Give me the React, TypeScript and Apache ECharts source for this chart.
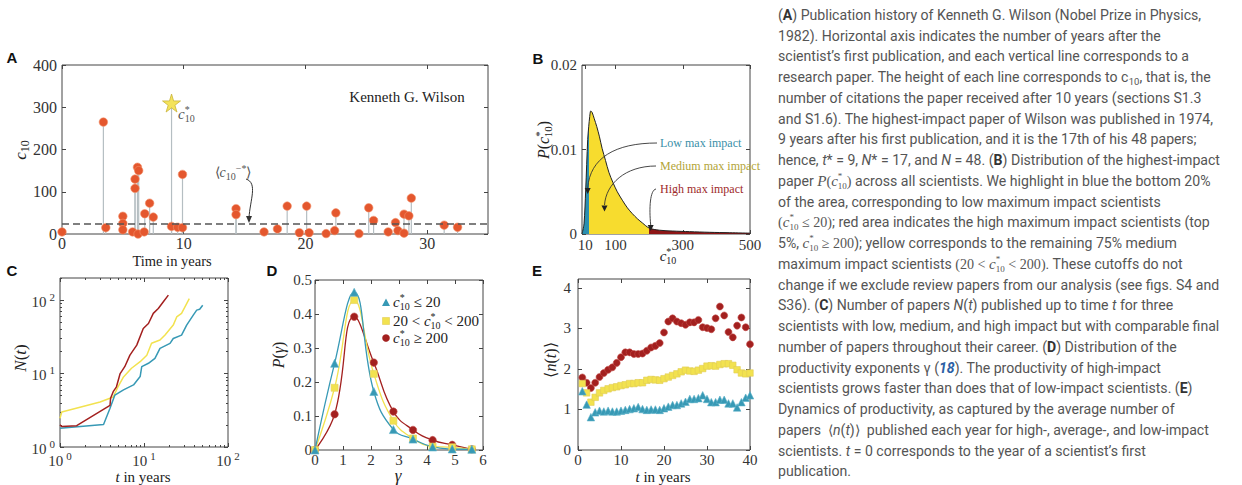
import React, { useEffect, useRef } from "react";
import * as echarts from "echarts";

const SERIF = "'Liberation Serif', 'Times New Roman', serif";
const SANS = "Roboto, 'Liberation Sans', Arial, sans-serif";

// ---------------- Panel A : Kenneth G. Wilson publication history ----------------
const aYears = [0, 3.4, 3.6, 5.0, 5.0, 5.0, 5.8, 6.0, 6.0, 6.2, 6.3, 6.25, 6.75, 6.8, 7.2, 7.5, 9.0, 9.5, 9.9, 9.9, 14.3, 14.3, 16.6, 17.7, 18.5, 19.5, 20.1, 20.3, 21.7, 22.4, 22.5, 24.4, 25.2, 25.6, 26.8, 27.4, 27.6, 28.1, 28.1, 28.5, 28.7, 31.4, 32.5];
const aCitations = [5, 265, 15, 42, 25, 10, 5, 108, 130, 158, 150, 0, 5, 48, 73, 40, 18, 16, 141, 15, 60, 46, 5, 12, 66, 3, 66, 3, 1, 8, 50, 1, 62, 32, 5, 27, 8, 2, 47, 43, 85, 21, 16];
const aStarYear = [9];
const aStarCitations = [310];
const aMeanOthers = 24;
const aYearTicks = [0, 10, 20, 30];
const aCitationTicks = [0, 100, 200, 300, 400];

// ---------------- Panel B : distribution of highest impact ----------------
const bC = [0, 2, 6, 11, 17, 20, 23, 26, 30, 36, 44, 52, 60, 70, 80, 92, 105, 120, 135, 150, 165, 180, 200, 230, 270, 320, 380, 440, 500];
const bP = [0, 0, 0.0012, 0.0052, 0.0112, 0.0127, 0.0139, 0.01456, 0.0144, 0.0137, 0.0127, 0.0115, 0.0101, 0.0087, 0.0073, 0.0061, 0.005, 0.004, 0.0031, 0.0024, 0.0018, 0.0013, 0.0007, 0.00045, 0.00035, 0.00028, 0.0002, 0.00015, 0.0001];
const bLowCut = 20;
const bHighCut = 200;
const bCTicks = [10, 100, 300, 500];
const bPTicks = [0, 0.01, 0.02];

// ---------------- Panel C : N(t) ----------------
const cLowT = [1, 3.3, 3.94, 4.5, 5.7, 7.5, 9.0, 9.4, 11.3, 13.5, 15.5, 20.4, 22.3, 28, 32.2, 38.6, 42.4, 46, 50];
const cLowN = [1.8, 2.03, 3.36, 5.1, 6.0, 7.0, 9.1, 12.4, 13.8, 16.1, 22, 25.8, 30, 33.4, 45.7, 62.5, 73, 75, 85];
const cMedT = [1, 1.05, 3.0, 4.3, 4.9, 5.7, 7.1, 9.0, 10.8, 12.3, 15.5, 17.8, 22.3, 24.5, 28, 34.6];
const cMedN = [2.46, 3.0, 4.1, 4.8, 6.6, 9.0, 11.8, 14.5, 17.8, 25.8, 28.6, 33.4, 45.7, 59, 66, 105];
const cHighT = [1, 1.05, 1.58, 3.94, 4.0, 4.3, 4.7, 5.2, 5.9, 6.8, 8.2, 9.8, 11.3, 12.9, 14.8, 17, 19.5];
const cHighN = [2.0, 1.9, 1.95, 3.7, 4.6, 5.66, 6.6, 10, 12.4, 17.8, 24.4, 41, 48, 66, 77, 95, 117];
const cMajorTicks = [1, 10, 100];
const cMinorTicksX = [2, 3, 4, 5, 6, 7, 8, 9, 20, 30, 40, 50, 60, 70, 80, 90];
const cMinorTicksY = [2, 3, 4, 5, 6, 7, 8, 9, 20, 30, 40, 50, 60, 70, 80, 90, 200];

// ---------------- Panel D : P(gamma) ----------------
const dGamma = [0, 0.7, 1.4, 2.1, 2.8, 3.5, 4.2, 4.9, 5.6];
const dLow = [0, 0.255, 0.464, 0.172, 0.06, 0.032, 0.009, 0.003, 0.002];
const dMed = [0, 0.183, 0.441, 0.224, 0.086, 0.034, 0.01, 0.008, 0.002];
const dHigh = [0, 0.105, 0.392, 0.257, 0.113, 0.059, 0.029, 0.015, 0.002];
const dGammaTicks = [0, 1, 2, 3, 4, 5, 6];
const dPTicks = [0, 0.1, 0.2, 0.3, 0.4, 0.5];

// ---------------- Panel E : <n(t)> ----------------
const eT = [1, 2, 3, 4, 5, 6, 7, 8, 9, 10, 11, 12, 13, 14, 15, 16, 17, 18, 19, 20, 21, 22, 23, 24, 25, 26, 27, 28, 29, 30, 31, 32, 33, 34, 35, 36, 37, 38, 39, 40];
const eHigh = [1.79, 1.66, 1.53, 1.66, 1.8, 1.9, 1.98, 2.04, 2.15, 2.29, 2.41, 2.41, 2.37, 2.37, 2.38, 2.45, 2.53, 2.57, 2.64, 2.9, 3.17, 3.25, 3.17, 3.13, 3.09, 3.15, 3.15, 3.21, 3.03, 3.01, 2.98, 3.25, 3.54, 3.32, 2.91, 2.78, 3.07, 3.27, 3.03, 2.61];
const eMed = [1.64, 1.41, 1.18, 1.3, 1.41, 1.47, 1.51, 1.54, 1.56, 1.59, 1.61, 1.64, 1.64, 1.66, 1.66, 1.72, 1.74, 1.73, 1.72, 1.76, 1.8, 1.84, 1.88, 1.93, 1.97, 1.95, 1.94, 1.97, 2.01, 2.07, 2.08, 2.07, 2.11, 2.13, 2.13, 2.09, 1.98, 1.9, 1.88, 1.9];
const eLow = [1.45, 1.12, 0.81, 0.93, 0.97, 0.95, 0.97, 0.95, 0.95, 0.97, 0.99, 1.01, 1.03, 1.06, 1.01, 0.99, 1.0, 1.0, 0.99, 1.03, 1.07, 1.11, 1.11, 1.15, 1.19, 1.26, 1.26, 1.28, 1.35, 1.26, 1.18, 1.18, 1.24, 1.24, 1.15, 1.15, 1.05, 1.18, 1.29, 1.35];
const eTTicks = [0, 10, 20, 30, 40];
const eNTicks = [0, 1, 2, 3, 4];

// ---------------- Caption ----------------
const captionLines = [
  "({b|A}) Publication history of Kenneth G. Wilson (Nobel Prize in Physics,",
  "1982). Horizontal axis indicates the number of years after the",
  "scientist\u2019s first publication, and each vertical line corresponds to a",
  "research paper. The height of each line corresponds to c{sub|10}, that is, the",
  "number of citations the paper received after 10 years (sections S1.3",
  "and S1.6). The highest-impact paper of Wilson was published in 1974,",
  "9 years after his first publication, and it is the 17th of his 48 papers;",
  "hence, {i|t}* = 9, {i|N}* = 17, and {i|N} = 48. ({b|B}) Distribution of the highest-impact",
  "paper {m|P}{mn|(}{m|c}{msup|*}{msb|10}{mn|)} across all scientists. We highlight in blue the bottom 20%",
  "of the area, corresponding to low maximum impact scientists",
  "{mn|(}{m|c}{msup|*}{msb|10}{mn| \u2264 20)}; red area indicates the high maximum impact scientists (top",
  "5%, {m|c}{msup|*}{msb|10}{mn| \u2265 200}); yellow corresponds to the remaining 75% medium",
  "maximum impact scientists {mn|(20 < }{m|c}{msup|*}{msb|10}{mn| < 200)}. These cutoffs do not",
  "change if we exclude review papers from our analysis (see figs. S4 and",
  "S36). ({b|C}) Number of papers {i|N}({i|t}) published up to time {i|t} for three",
  "scientists with low, medium, and high impact but with comparable final",
  "number of papers throughout their career. ({b|D}) Distribution of the",
  "productivity exponents \u03b3 ({ref|18}). The productivity of high-impact",
  "scientists grows faster than does that of low-impact scientists. ({b|E})",
  "Dynamics of productivity, as captured by the average number of",
  "papers  \u27e8{i|n}({i|t})\u27e9  published each year for high-, average-, and low-impact",
  "scientists. {i|t} = 0 corresponds to the year of a scientist\u2019s first",
  "publication.",
];

const TEAL = "#3799b5";
const YEL = "#f2e24f";
const RED = "#a3201f";
const ORANGE = "#e4572e";
const AX = "#444";
const LBL = "#333";

function mathRich(size: number, color: string) {
  const s = Math.round(size * 0.68);
  const sub = { fontFamily: SERIF, fontSize: s, fill: color, color, verticalAlign: "bottom", lineHeight: s };
  const sup = { fontFamily: SERIF, fontSize: s, fill: color, color, verticalAlign: "top", lineHeight: s };
  return {
    i: { fontFamily: SERIF, fontStyle: "italic", fontSize: size, fill: color, color, lineHeight: size + 4 },
    n: { fontFamily: SERIF, fontSize: size, fill: color, color, lineHeight: size + 4 },
    sub,
    sup,
    // subscript stacked under a preceding superscript "*"
    sb: { ...sub, padding: [0, 0, 0, -Math.round(s * 0.5)] },
  };
}

function mtext(x: number, y: number, text: string, size: number, color: string, opts: any = {}) {
  return {
    type: "text",
    x,
    y,
    rotation: opts.rotation || 0,
    silent: true,
    z: 50,
    style: {
      text,
      fill: color,
      fontFamily: opts.family || SERIF,
      fontSize: size,
      fontWeight: opts.bold ? "bold" : "normal",
      fontStyle: opts.italic ? "italic" : "normal",
      align: opts.align || "center",
      verticalAlign: "middle",
      rich: opts.rich || mathRich(size, color),
      lineHeight: opts.lineHeight,
    },
  };
}

function capRich(cap: number, cc: string) {
  return {
    b: { fontFamily: SANS, fontSize: cap, fontWeight: "bold", fill: "#333", color: "#333" },
    i: { fontFamily: SANS, fontSize: cap, fontStyle: "italic", fill: cc, color: cc },
    sub: { fontFamily: SANS, fontSize: 9.5, fill: cc, color: cc, verticalAlign: "bottom", lineHeight: 9.5 },
    m: { fontFamily: SERIF, fontSize: cap + 1, fontStyle: "italic", fill: cc, color: cc },
    mn: { fontFamily: SERIF, fontSize: cap, fill: cc, color: cc },
    msup: { fontFamily: SERIF, fontSize: 9, fill: cc, color: cc, verticalAlign: "top", lineHeight: 9 },
    msb: { fontFamily: SERIF, fontSize: 9, fill: cc, color: cc, verticalAlign: "bottom", lineHeight: 9, padding: [0, 0, 0, -4.5] },
    ref: { fontFamily: SANS, fontSize: cap, fontStyle: "italic", fontWeight: "bold", fill: "#2c5fa5", color: "#2c5fa5" },
  };
}

function buildOption() {
  const xAxis: any[] = [];
  const yAxis: any[] = [];
  const grid = [
    { left: 62, top: 65, width: 426, height: 169 },
    { left: 582, top: 65, width: 168, height: 169 },
    { left: 60, top: 278, width: 168, height: 169 },
    { left: 315, top: 280, width: 168, height: 170 },
    { left: 578, top: 279, width: 172, height: 171 },
  ].map((g) => ({ ...g, show: true, borderColor: AX, borderWidth: 1, backgroundColor: "rgba(0,0,0,0)", containLabel: false, outerBoundsMode: "none" }));

  const axis = (gi: number, s: any, position: string, withLabels: boolean, ticks: number[], len: number) => {
    const label: any = withLabels
      ? { show: true, customValues: s.labels, margin: s.margin, fontFamily: SERIF, fontSize: s.size, color: LBL }
      : { show: false };
    if (withLabels && s.fmt) label.formatter = s.fmt;
    if (withLabels && s.rich) label.rich = s.rich;
    const a: any = {
      gridIndex: gi,
      type: s.type,
      min: s.min,
      max: s.max,
      position,
      offset: 0,
      axisLine: { show: false, onZero: false },
      splitLine: { show: false },
      minorTick: { show: false },
      minorSplitLine: { show: false },
      axisTick: { show: true, inside: true, length: len, customValues: ticks, lineStyle: { color: AX, width: 1 } },
      axisLabel: label,
      axisPointer: { show: false },
      silent: true,
    };
    if (s.type === "log") a.logBase = 10;
    return a;
  };

  const panel = (gi: number, xs: any, ys: any) => {
    const xi = xAxis.length;
    const yi = yAxis.length;
    xAxis.push(axis(gi, xs, "bottom", true, xs.ticks, 4), axis(gi, xs, "top", false, xs.ticks, 4));
    yAxis.push(axis(gi, ys, "left", true, ys.ticks, 4), axis(gi, ys, "right", false, ys.ticks, 4));
    if (xs.minor) xAxis.push(axis(gi, xs, "bottom", false, xs.minor, 2), axis(gi, xs, "top", false, xs.minor, 2));
    if (ys.minor) yAxis.push(axis(gi, ys, "left", false, ys.minor, 2), axis(gi, ys, "right", false, ys.minor, 2));
    return { xAxisIndex: xi, yAxisIndex: yi };
  };

  const axA = panel(
    0,
    { type: "value", min: 0, max: 35, ticks: aYearTicks, labels: aYearTicks, size: 16, margin: 1 },
    { type: "value", min: 0, max: 400, ticks: aCitationTicks, labels: aCitationTicks, size: 16, margin: 5 }
  );
  const axB = panel(
    1,
    { type: "value", min: 0, max: 500, ticks: bCTicks, labels: bCTicks, size: 15, margin: 3 },
    { type: "value", min: 0, max: 0.02, ticks: bPTicks, labels: bPTicks, size: 15, margin: 5 }
  );
  const logRich = {
    b: { fontFamily: SERIF, fontSize: 15, color: LBL, lineHeight: 18, verticalAlign: "bottom" },
    s: { fontFamily: SERIF, fontSize: 11, color: LBL, lineHeight: 11, verticalAlign: "top", padding: [0, 0, 0, 3] },
  };
  const logFmt = (v: number) => "{b|10}{s|" + Math.round(Math.log10(v)) + "}";
  const axC = panel(
    2,
    { type: "log", min: 1, max: 100, ticks: cMajorTicks, labels: cMajorTicks, minor: cMinorTicksX, size: 15, margin: 3, fmt: logFmt, rich: logRich },
    { type: "log", min: 1, max: 200, ticks: cMajorTicks, labels: cMajorTicks, minor: cMinorTicksY, size: 15, margin: 5, fmt: logFmt, rich: logRich }
  );
  const axD = panel(
    3,
    { type: "value", min: 0, max: 6, ticks: dGammaTicks, labels: dGammaTicks, size: 15, margin: 2 },
    { type: "value", min: 0, max: 0.5, ticks: dPTicks, labels: dPTicks, size: 15, margin: 3 }
  );
  const axE = panel(
    4,
    { type: "value", min: 0, max: 40, ticks: eTTicks, labels: eTTicks, size: 15, margin: 2 },
    { type: "value", min: 0, max: 4.22, ticks: eNTicks, labels: eNTicks, size: 15, margin: 7 }
  );

  const series: any[] = [];

  // Panel A
  series.push({
    type: "custom",
    ...axA,
    silent: true,
    z: 1,
    data: [...aYears.map((x, i) => [x, aCitations[i]]), ...aStarYear.map((x, i) => [x, aStarCitations[i]])],
    renderItem: (_p: any, api: any) => {
      const top = api.coord([api.value(0), api.value(1)]);
      const base = api.coord([api.value(0), 0]);
      return { type: "line", shape: { x1: base[0], y1: base[1], x2: top[0], y2: top[1] }, style: { stroke: "#b5bec2", lineWidth: 1.2 } };
    },
  });
  series.push({
    type: "scatter",
    ...axA,
    z: 3,
    symbolSize: 8.5,
    itemStyle: { color: ORANGE, borderColor: "#f3926c", borderWidth: 0.6, opacity: 1 },
    data: aYears.map((x, i) => [x, aCitations[i]]),
    markLine: {
      silent: true,
      symbol: "none",
      label: { show: false },
      lineStyle: { type: [7, 4], color: "#555", width: 1.5 },
      data: [{ yAxis: aMeanOthers }],
    },
  });
  series.push({
    type: "scatter",
    ...axA,
    z: 4,
    symbol: "path://M50,0 L61,35 L98,35 L68,57 L79,91 L50,70 L21,91 L32,57 L2,35 L39,35 Z",
    symbolSize: 18,
    itemStyle: { color: "#f4e35a", borderColor: "#c9b43a", borderWidth: 0.8, opacity: 1 },
    data: aStarYear.map((x, i) => [x, aStarCitations[i]]),
  });

  // Panel B
  const bData = bC.map((c, i) => [c, bP[i]]);
  const bAreaIndex = series.length;
  series.push({
    type: "line",
    ...axB,
    z: 2,
    smooth: 0.3,
    symbol: "none",
    lineStyle: { width: 0, opacity: 0 },
    areaStyle: { opacity: 1 },
    data: bData,
  });
  series.push({
    type: "line",
    ...axB,
    z: 3,
    smooth: 0.3,
    symbol: "none",
    lineStyle: { width: 1, color: "#222" },
    data: bData,
  });

  // Panel C
  const cLine = (t: number[], n: number[], color: string) => ({
    type: "line",
    ...axC,
    symbol: "none",
    lineStyle: { width: 1.5, color },
    data: t.map((v, i) => [v, n[i]]),
  });
  series.push(cLine(cMedT, cMedN, YEL), cLine(cLowT, cLowN, TEAL), cLine(cHighT, cHighN, RED));

  // Panel D
  const dLine = (vals: number[], color: string, symbol: string, size: number, border: string) => ({
    type: "line",
    ...axD,
    smooth: 0.45,
    symbol,
    symbolSize: size,
    showSymbol: true,
    lineStyle: { width: 1.3, color },
    itemStyle: { color, borderColor: border, borderWidth: 0.6 },
    data: dGamma.map((g, i) => [g, vals[i]]),
  });
  series.push(
    dLine(dHigh, RED, "circle", 7.5, "#c24b48"),
    dLine(dMed, YEL, "rect", 7, "#e3d060"),
    dLine(dLow, TEAL, "triangle", 8, "#5bb0c8")
  );

  // Panel E
  const eScatter = (vals: number[], color: string, symbol: string, size: number, border: string) => ({
    type: "scatter",
    ...axE,
    symbol,
    symbolSize: size,
    itemStyle: { color, borderColor: border, borderWidth: 0.6, opacity: 1 },
    data: eT.map((t, i) => [t, vals[i]]),
  });
  series.push(
    eScatter(eHigh, RED, "circle", 7, "#c24b48"),
    eScatter(eMed, YEL, "rect", 6.5, "#e0cd55"),
    eScatter(eLow, TEAL, "triangle", 7.5, "#5bb0c8")
  );

  // Graphic annotations
  const g: any[] = [];
  const letter = (x: number, y: number, t: string) =>
    mtext(x, y, t, 15, "#111", { family: "'Liberation Sans', Arial, sans-serif", bold: true, rich: {} });
  g.push(letter(12, 57, "A"), letter(538, 58, "B"), letter(12, 270, "C"), letter(272, 270, "D"), letter(537, 270, "E"));

  // A texts
  g.push(mtext(20, 150, "{i|c}{sub|10}", 17, "#222", { rotation: Math.PI / 2 }));
  g.push(mtext(172, 261, "Time in years", 14.5, "#222", { rich: {} }));
  g.push(mtext(407, 97, "Kenneth G. Wilson", 15, "#222", { rich: {} }));
  g.push(mtext(178, 114, "{i|c}{sup|*}{sb|10}", 15, "#555", { align: "left" }));
  g.push(mtext(233, 172, "{n|\u27e8}{i|c}{sub|10}{sup|\u2212*}{n|\u27e9}", 14, "#555"));
  g.push({
    type: "bezierCurve",
    silent: true,
    z: 50,
    shape: { x1: 246, y1: 179, cpx1: 258, cpy1: 183, cpx2: 250, cpy2: 200, x2: 249, y2: 218 },
    style: { stroke: "#333", lineWidth: 1, fill: "none" },
  });
  g.push({ type: "polygon", silent: true, z: 50, shape: { points: [[246, 216], [252, 216], [249, 223]] }, style: { fill: "#333" } });

  // B texts
  g.push(mtext(543, 140, "{i|P}{n|(}{i|c}{sup|*}{sb|10}{n|)}", 16, "#222", { rotation: Math.PI / 2 }));
  g.push(mtext(668, 256, "{i|c}{sup|*}{sb|10}", 15, "#222"));
  g.push(mtext(660, 143, "Low max impact", 12, "#3a8fa8", { align: "left", rich: {} }));
  g.push(mtext(660, 166, "Medium max impact", 12, "#b2a436", { align: "left", rich: {} }));
  g.push(mtext(660, 189, "High max impact", 12, "#9e2a2a", { align: "left", rich: {} }));
  const arrows = [
    { s: [657, 143], c1: [615, 143], c2: [590, 158], e: [587.7, 188], tip: 194 },
    { s: [656, 166], c1: [625, 166], c2: [606, 184], e: [604.5, 205], tip: 211.5 },
    { s: [656, 189], c1: [650, 190], c2: [649, 208], e: [650.7, 225], tip: 231 },
  ];
  arrows.forEach((a) => {
    g.push({
      type: "bezierCurve",
      silent: true,
      z: 50,
      shape: { x1: a.s[0], y1: a.s[1], cpx1: a.c1[0], cpy1: a.c1[1], cpx2: a.c2[0], cpy2: a.c2[1], x2: a.e[0], y2: a.e[1] },
      style: { stroke: "#333", lineWidth: 0.9, fill: "none" },
    });
    g.push({
      type: "polygon",
      silent: true,
      z: 50,
      shape: { points: [[a.e[0] - 3, a.tip - 6], [a.e[0] + 3, a.tip - 6], [a.e[0], a.tip]] },
      style: { fill: "#222" },
    });
  });

  // C texts
  g.push(mtext(20, 358, "{i|N}{n|(}{i|t}{n|)}", 17, "#222", { rotation: Math.PI / 2 }));
  g.push(mtext(143, 477, "{i|t}{n| in years}", 15, "#222"));

  // D texts + legend
  g.push(mtext(278, 355, "{i|P}{n|(}{i|\u03b3}{n|)}", 16, "#222", { rotation: Math.PI / 2 }));
  g.push({
    type: "text",
    x: 398,
    y: 475.5,
    silent: true,
    z: 50,
    style: { text: "\u03b3", fill: "#222", fontFamily: SERIF, fontStyle: "italic", fontSize: 17, align: "center", verticalAlign: "middle" },
  });
  g.push({ type: "polygon", silent: true, z: 50, shape: { points: [[382, 306], [390, 306], [386, 298.5]] }, style: { fill: TEAL } });
  g.push({ type: "rect", silent: true, z: 50, shape: { x: 382.5, y: 317.5, width: 7, height: 7 }, style: { fill: YEL, stroke: "#e0cd55", lineWidth: 0.6 } });
  g.push({ type: "circle", silent: true, z: 50, shape: { cx: 386, cy: 338, r: 3.8 }, style: { fill: RED } });
  g.push(mtext(393, 302, "{i|c}{sup|*}{sb|10}{n| \u2264 20}", 15, "#222", { align: "left" }));
  g.push(mtext(393, 321, "{n|20 < }{i|c}{sup|*}{sb|10}{n| < 200}", 15, "#222", { align: "left" }));
  g.push(mtext(393, 338, "{i|c}{sup|*}{sb|10}{n| \u2265 200}", 15, "#222", { align: "left" }));

  // E texts
  g.push(mtext(550, 360, "{n|\u27e8}{i|n}{n|(}{i|t}{n|)\u27e9}", 16, "#222", { rotation: Math.PI / 2 }));
  g.push(mtext(663, 477, "{i|t}{n| in years}", 15, "#222"));

  // Caption
  const CAP = 14.1;
  const CC = "#555";
  captionLines.forEach((line, i) => {
    g.push({
      type: "text",
      x: 778,
      y: 14.8 + i * 20.75,
      silent: true,
      z: 50,
      style: {
        text: line,
        fill: CC,
        fontFamily: SANS,
        fontSize: CAP,
        align: "left",
        verticalAlign: "middle",
        lineHeight: 19,
        rich: capRich(CAP, CC),
      },
    });
  });

  return {
    animation: false,
    backgroundColor: "#fff",
    textStyle: { fontFamily: SERIF },
    grid,
    xAxis,
    yAxis,
    visualMap: [
      {
        show: false,
        type: "piecewise",
        dimension: 0,
        seriesIndex: bAreaIndex,
        pieces: [
          { lte: bLowCut, color: "#2b8fb0" },
          { gt: bLowCut, lte: bHighCut, color: "#f7dc2e" },
          { gt: bHighCut, color: "#8e1616" },
        ],
      },
    ],
    series,
    graphic: { elements: g },
  };
}

export default function App() {
  const ref = useRef<HTMLDivElement>(null);
  useEffect(() => {
    const chart = echarts.init(ref.current as HTMLDivElement, null, { renderer: "svg" });
    chart.setOption(buildOption() as any);
    return () => chart.dispose();
  }, []);
  return (
    <div
      ref={ref}
      style={{ position: "fixed", left: 0, top: 0, width: 1242, height: 485, background: "#fff" }}
    />
  );
}
